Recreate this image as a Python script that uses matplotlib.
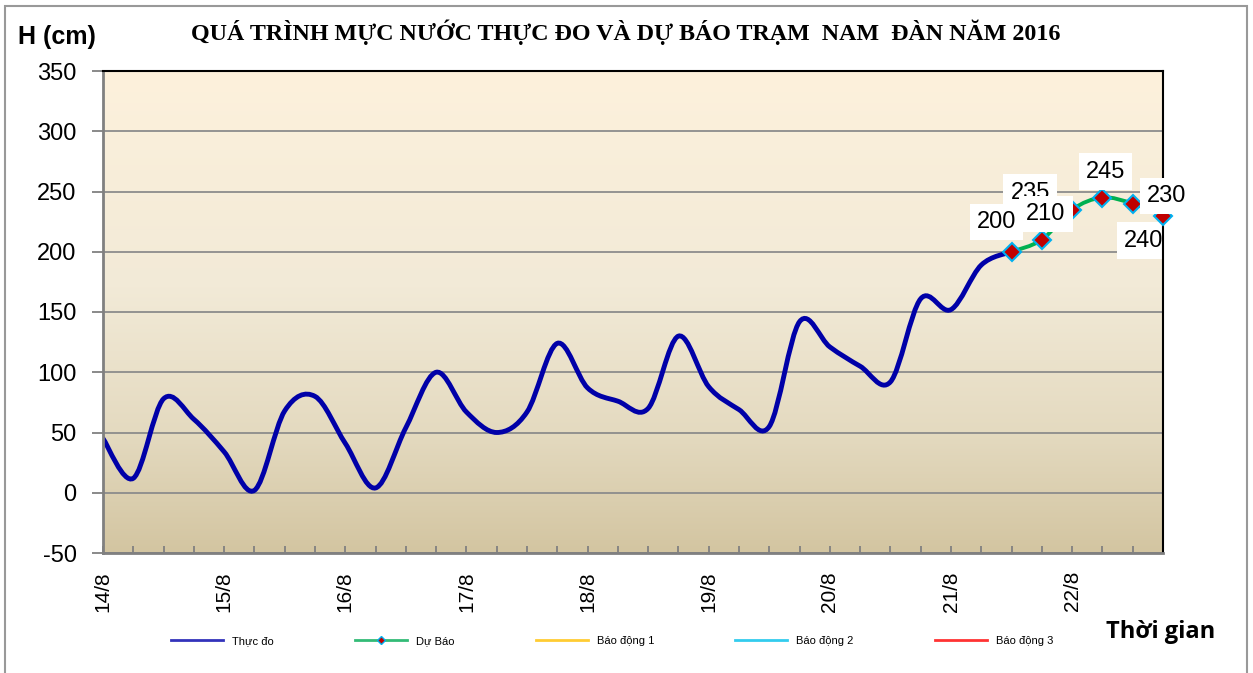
import numpy as np
import matplotlib.pyplot as plt
from matplotlib.path import Path
from matplotlib.patches import PathPatch, Rectangle
from matplotlib.lines import Line2D
from matplotlib.colors import LinearSegmentedColormap

# số liệu (6 giờ / điểm, bắt đầu 14/8 0h)
ngay = ['14/8', '15/8', '16/8', '17/8', '18/8', '19/8', '20/8', '21/8', '22/8']
h_thuc_do = [45, 12, 78, 61, 34, 2, 68, 80, 41, 4, 54, 100, 67, 50, 67, 124,
             87, 76, 70, 130, 88, 69, 55, 142, 121, 105, 92, 161, 152, 189, 200]
h_du_bao = [200, 210, 235, 245, 240, 230]
bat_dau_du_bao = 30  # vị trí điểm dự báo đầu tiên

# nhãn số liệu: độ lệch (pixel) so với điểm
lech_nhan = [(-15, 30), (4, 26), (-42, 17), (3, 26), (11, -37), (4, 20)]
thu_tu_nhan = [5, 8, 5, 5, 2.5, 5]


def duong_muot(x, y):
    # đường cong kiểu Excel (Catmull-Rom -> Bezier)
    p = np.column_stack([x, y]).astype(float)
    n = len(p)
    verts = [p[0]]
    codes = [Path.MOVETO]
    for i in range(n - 1):
        p0 = p[max(i - 1, 0)]
        p1 = p[i]
        p2 = p[i + 1]
        p3 = p[min(i + 2, n - 1)]
        verts += [p1 + (p2 - p0) / 6, p2 - (p3 - p1) / 6, p2]
        codes += [Path.CURVE4] * 3
    return Path(verts, codes)


plt.rcParams['font.family'] = ['Liberation Sans', 'DejaVu Sans']
plt.rcParams['axes.unicode_minus'] = False

fig = plt.figure(figsize=(12.53, 6.73), dpi=100)
ax = fig.add_axes([103 / 1253, 1 - 553 / 673, 1060 / 1253, 482 / 673])

# nền chuyển màu
cmap = LinearSegmentedColormap.from_list(
    'nen', [(0, '#D3C5A1'), (0.25, '#E4DAC0'), (0.55, '#F2EAD7'), (1, '#FDF1DC')])
grad = np.linspace(0, 1, 256).reshape(-1, 1)
ax.imshow(grad, cmap=cmap, aspect='auto', extent=[0, 1, 0, 1],
          transform=ax.transAxes, origin='lower', zorder=0)

x_td = np.arange(len(h_thuc_do))
x_db = np.arange(bat_dau_du_bao, bat_dau_du_bao + len(h_du_bao))

ax.add_patch(PathPatch(duong_muot(x_td, h_thuc_do), fill=False,
                       edgecolor='#0000A8', lw=3.5, capstyle='round', zorder=2))
ax.add_patch(PathPatch(duong_muot(x_db, h_du_bao), fill=False,
                       edgecolor='#00B050', lw=2.8, capstyle='round', zorder=2))
ax.plot(x_db, h_du_bao, ls='none', marker='D', ms=9, mfc='#C00000',
        mec='#00B0F0', mew=1.5, zorder=3, clip_on=False)

for xi, v, (dx, dy), z in zip(x_db, h_du_bao, lech_nhan, thu_tu_nhan):
    ax.annotate(str(v), xy=(xi, v), xytext=(dx, dy), textcoords='offset pixels',
                ha='center', va='center', fontsize=17, zorder=z,
                bbox=dict(boxstyle='square,pad=0.3', fc='white', ec='none'))

ax.set_xlim(0, 35)
ax.set_ylim(-50, 350)
ax.set_yticks(range(-50, 351, 50))
ax.yaxis.grid(True, color='#8C8C8C', lw=1.3)
for gl in ax.get_ygridlines():
    gl.set_zorder(1)

ax.set_xticks(range(0, 36))
ax.set_xticklabels([ngay[i // 4] if i % 4 == 0 else '' for i in range(36)],
                   rotation=90, fontsize=15)
ax.tick_params(axis='x', direction='in', length=5, color='#808080', width=1.3, pad=13)
ax.tick_params(axis='y', direction='out', length=8, color='#808080', width=1.3,
               labelsize=17, pad=11)

ax.spines['left'].set_color('#808080')
ax.spines['bottom'].set_color('#808080')
ax.spines['left'].set_linewidth(2)
ax.spines['bottom'].set_linewidth(2)
ax.spines['top'].set_color('black')
ax.spines['right'].set_color('black')
ax.spines['top'].set_linewidth(1.5)
ax.spines['right'].set_linewidth(1.5)

fig.text(626 / 1253, 1 - 32 / 673, 'QUÁ TRÌNH MỰC NƯỚC THỰC ĐO VÀ DỰ BÁO TRẠM  NAM  ĐÀN NĂM 2016',
         ha='center', va='center', fontsize=17.3, fontweight='bold', family='Liberation Serif')
fig.text(18 / 1253, 1 - 37 / 673, 'H (cm)', ha='left', va='center',
         fontsize=18, fontweight='bold')
fig.text(1215 / 1253, 1 - 632 / 673, 'Thời gian', ha='right', va='center',
         fontsize=17, fontweight='bold', family='Open Sans')

handles = [
    Line2D([], [], color='#3333BB', lw=2),
    Line2D([], [], color='#33BB77', lw=2, marker='D', ms=4, mfc='#C00000', mec='#00B0F0'),
    Line2D([], [], color='#FFCC33', lw=2),
    Line2D([], [], color='#33CCEE', lw=2),
    Line2D([], [], color='#FF3333', lw=2),
]
labels = ['Thực đo', 'Dự Báo', 'Báo động 1', 'Báo động 2', 'Báo động 3']
fig.legend(handles, labels, loc='center', bbox_to_anchor=(612 / 1253, 1 - 641 / 673),
           ncol=5, frameon=False, fontsize=8, handlelength=4.7, handletextpad=0.8,
           columnspacing=7.3)

fig.add_artist(Rectangle((5 / 1253, -0.01), 1242 / 1253, 1 - 6 / 673 + 0.01,
                         transform=fig.transFigure, fill=False, ec='#999999', lw=1.5))

fig.savefig('out.png', dpi=100)
